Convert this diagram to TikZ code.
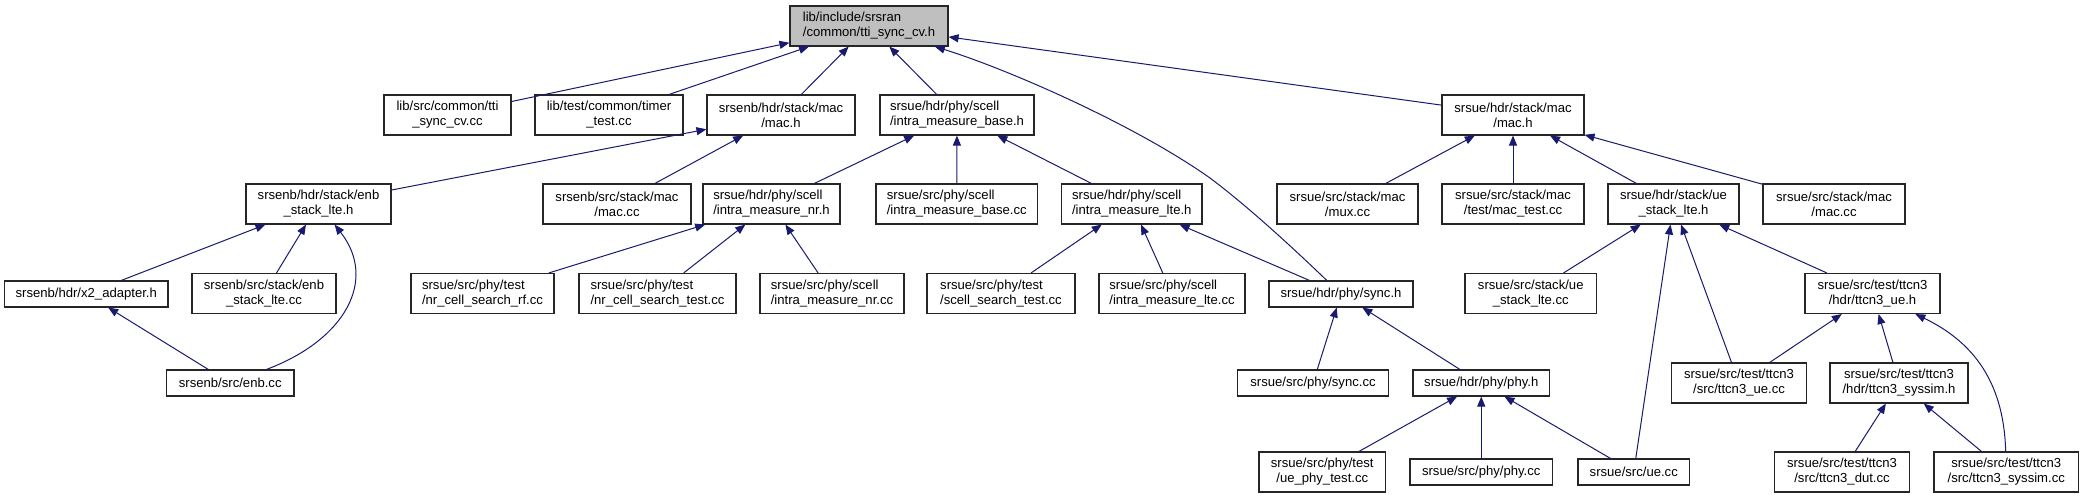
\documentclass[tikz,border=0pt]{standalone}
\usepackage{fontspec}
\setmainfont{Liberation Sans}
\usepackage{tikz}
\usetikzlibrary{arrows.meta}
\definecolor{edgeblue}{RGB}{25,25,112}
\definecolor{rootgray}{RGB}{191,191,191}

\begin{document}
\begin{tikzpicture}[x=1pt, y=-1pt,
  file/.style={draw=black!85, line width=1.1pt, fill=white, inner xsep=3pt, inner ysep=1pt, font=\fontsize{13.1}{15}\selectfont, align=center},
  fileL/.style={file, align=left},
  one/.style={minimum height=26pt},
  two/.style={minimum height=40pt},
  inc/.style={edgeblue, line width=1pt, -{Triangle[length=10pt,width=8pt]}}
]

\useasboundingbox (0,0) rectangle (2083,499);

% row 0
\node[fileL, two, minimum width=158pt, fill=rootgray] (root) at (869,26) {lib/include/srsran\\/common/tti\_sync\_cv.h};

% row 1
\node[file, two, minimum width=127pt] (tticc) at (447.5,115) {lib/src/common/tti\\\_sync\_cv.cc};
\node[file, two, minimum width=148pt] (timer) at (609,115) {lib/test/common/timer\\\_test.cc};
\node[file, two, minimum width=148pt] (enbmach) at (781,115) {srsenb/hdr/stack/mac\\/mac.h};
\node[fileL, two, minimum width=154pt] (imbaseh) at (957,115) {srsue/hdr/phy/scell\\/intra\_measure\_base.h};
\node[file, two, minimum width=142pt] (uemach) at (1513,115) {srsue/hdr/stack/mac\\/mac.h};

% row 2
\node[file, two, minimum width=145pt] (enbstackh) at (318.5,204) {srsenb/hdr/stack/enb\\\_stack\_lte.h};
\node[file, two, minimum width=148pt] (enbmaccc) at (617,204) {srsenb/src/stack/mac\\/mac.cc};
\node[fileL, two, minimum width=137pt] (imnrh) at (771.5,204) {srsue/hdr/phy/scell\\/intra\_measure\_nr.h};
\node[fileL, two, minimum width=161.5pt] (imbasecc) at (956.75,204) {srsue/src/phy/scell\\/intra\_measure\_base.cc};
\node[fileL, two, minimum width=140.4pt] (imlteh) at (1131.8,204) {srsue/hdr/phy/scell\\/intra\_measure\_lte.h};
\node[file, two, minimum width=141pt] (muxcc) at (1347.5,204) {srsue/src/stack/mac\\/mux.cc};
\node[file, two, minimum width=142pt] (mactest) at (1513,204) {srsue/src/stack/mac\\/test/mac\_test.cc};
\node[file, two, minimum width=131pt] (uestackh) at (1673.5,204) {srsue/hdr/stack/ue\\\_stack\_lte.h};
\node[file, two, minimum width=142pt] (uemaccc) at (1834,204) {srsue/src/stack/mac\\/mac.cc};

% row 3
\node[file, one, minimum width=163.5pt] (x2) at (86.25,294) {srsenb/hdr/x2\_adapter.h};
\node[file, two, minimum width=144pt] (enbstackcc) at (264,293.5) {srsenb/src/stack/enb\\\_stack\_lte.cc};
\node[fileL, two, minimum width=143pt] (nrrf) at (482.5,293.5) {srsue/src/phy/test\\/nr\_cell\_search\_rf.cc};
\node[fileL, two, minimum width=157pt] (nrtest) at (657.5,293.5) {srsue/src/phy/test\\/nr\_cell\_search\_test.cc};
\node[fileL, two, minimum width=144pt] (imnrcc) at (832,293.5) {srsue/src/phy/scell\\/intra\_measure\_nr.cc};
\node[fileL, two, minimum width=148pt] (scelltest) at (1001,293.5) {srsue/src/phy/test\\/scell\_search\_test.cc};
\node[fileL, two, minimum width=146pt] (imltecc) at (1172,293.5) {srsue/src/phy/scell\\/intra\_measure\_lte.cc};
\node[file, one, minimum width=144pt] (synch) at (1341,294) {srsue/hdr/phy/sync.h};
\node[file, two, minimum width=131.5pt] (uestackcc) at (1530.75,293.5) {srsue/src/stack/ue\\\_stack\_lte.cc};
\node[file, two, minimum width=135pt] (ttcnueh) at (1872.5,293.5) {srsue/src/test/ttcn3\\/hdr/ttcn3\_ue.h};

% row 4
\node[file, one, minimum width=127.5pt] (enbcc) at (230.25,383) {srsenb/src/enb.cc};
\node[file, one, minimum width=151pt] (synccc) at (1313,383) {srsue/src/phy/sync.cc};
\node[file, one, minimum width=136.5pt] (phyh) at (1481.25,383) {srsue/hdr/phy/phy.h};
\node[file, two, minimum width=135pt] (ttcnuecc) at (1739,383) {srsue/src/test/ttcn3\\/src/ttcn3\_ue.cc};
\node[file, two, minimum width=138pt] (syssimh) at (1899,383) {srsue/src/test/ttcn3\\/hdr/ttcn3\_syssim.h};

% row 5
\node[file, two, minimum width=126.5pt] (uephytest) at (1322.25,472) {srsue/src/phy/test\\/ue\_phy\_test.cc};
\node[file, one, minimum width=142.5pt] (phycc) at (1481.25,472) {srsue/src/phy/phy.cc};
\node[file, one, minimum width=111.5pt] (uecc) at (1633.75,472) {srsue/src/ue.cc};
\node[file, two, minimum width=135pt] (dutcc) at (1842,472) {srsue/src/test/ttcn3\\/src/ttcn3\_dut.cc};
\node[file, two, minimum width=144.5pt] (syssimcc) at (2006.25,472) {srsue/src/test/ttcn3\\/src/ttcn3\_syssim.cc};

% include edges
\draw[inc] (tticc) -- (root);
\draw[inc] (timer) -- (root);
\draw[inc] (enbmach) -- (root);
\draw[inc] (imbaseh) -- (root);
\draw[inc] (uemach) -- (root);
\draw[inc] (synch) .. controls (1295,250) and (1250,208) .. (1210,178) .. controls (1135,125) and (1010,70) .. (root);

\draw[inc] (enbstackh) -- (enbmach);
\draw[inc] (enbmaccc) -- (enbmach);
\draw[inc] (imnrh) -- (imbaseh);
\draw[inc] (imbasecc) -- (imbaseh);
\draw[inc] (imlteh) -- (imbaseh);
\draw[inc] (muxcc) -- (uemach);
\draw[inc] (mactest) -- (uemach);
\draw[inc] (uestackh) -- (uemach);
\draw[inc] (uemaccc) -- (uemach);

\draw[inc] (x2) -- (enbstackh);
\draw[inc] (enbstackcc) -- (enbstackh);
\draw[inc] (enbcc) .. controls (345,340) and (378,280) .. (enbstackh);
\draw[inc] (enbcc) -- (x2);

\draw[inc] (nrrf) -- (imnrh);
\draw[inc] (nrtest) -- (imnrh);
\draw[inc] (imnrcc) -- (imnrh);
\draw[inc] (scelltest) -- (imlteh);
\draw[inc] (imltecc) -- (imlteh);
\draw[inc] (synch) -- (imlteh);

\draw[inc] (synccc) -- (synch);
\draw[inc] (phyh) -- (synch);
\draw[inc] (uephytest) -- (phyh);
\draw[inc] (phycc) -- (phyh);
\draw[inc] (uecc) -- (phyh);

\draw[inc] (uestackcc) -- (uestackh);
\draw[inc] (uecc) -- (uestackh);
\draw[inc] (ttcnuecc) -- (uestackh);
\draw[inc] (ttcnueh) -- (uestackh);

\draw[inc] (ttcnuecc) -- (ttcnueh);
\draw[inc] (syssimh) -- (ttcnueh);
\draw[inc] (syssimcc) .. controls (2004,390) and (1980,345) .. (ttcnueh);
\draw[inc] (dutcc) -- (syssimh);
\draw[inc] (syssimcc) -- (syssimh);

\end{tikzpicture}
\end{document}
